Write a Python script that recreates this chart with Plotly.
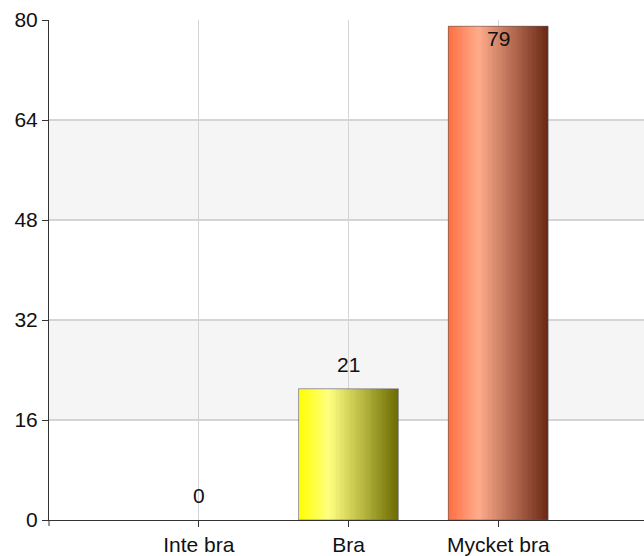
import plotly.graph_objects as go

categories = ["Inte bra", "Bra", "Mycket bra"]
values = [0, 21, 79]
y_ticks = [0, 16, 32, 48, 64, 80]

# gradient colour stops per category: (left, highlight, right)
base_colors = [(255, 255, 0), (255, 255, 0), (255, 110, 64)]
light_colors = [(255, 255, 128), (255, 255, 128), (255, 172, 140)]
dark_colors = [(107, 107, 0), (107, 107, 0), (105, 40, 20)]

xs = list(range(len(categories)))
BAR_W = 0.667
N = 40
HL = 0.3
FONT = "Liberation Sans, Arial"
FS = 21


def mix(a, b, t):
    return tuple(round(a[i] + (b[i] - a[i]) * t) for i in range(3))


def grad(i, t):
    if t <= HL:
        c = mix(base_colors[i], light_colors[i], t / HL)
    else:
        c = mix(light_colors[i], dark_colors[i], (t - HL) / (1 - HL))
    return "rgb(%d,%d,%d)" % c


fig = go.Figure()
w = BAR_W / N
for k in range(N):
    t = (k + 0.5) / N
    fig.add_trace(go.Bar(
        x=xs, y=values,
        width=w * 1.3 if k < N - 1 else w,
        offset=-BAR_W / 2 + k * w,
        marker=dict(color=[grad(i, t) for i in range(len(xs))], line=dict(width=0)),
        hoverinfo="skip", showlegend=False,
    ))
# thin outline (not on zero-height bars)
fig.add_trace(go.Bar(
    x=xs, y=values, width=BAR_W, offset=-BAR_W / 2,
    marker=dict(color="rgba(0,0,0,0)",
                line=dict(color=["rgba(90,90,90,0.6)" if v > 0 else "rgba(0,0,0,0)" for v in values],
                          width=1)),
    hoverinfo="skip", showlegend=False,
))

annotations = []
for x, v in zip(xs, values):
    inside = v > 70
    annotations.append(dict(
        x=x, y=v, xref="x", yref="y", text=str(v), showarrow=False,
        yanchor="top" if inside else "bottom",
        yshift=1 if inside else 11,
        font=dict(family=FONT, size=FS, color="#111"),
    ))

# alternating bands
shapes = []
for j in range(len(y_ticks) - 1):
    if j % 2 == 1:
        shapes.append(dict(type="rect", xref="paper", yref="y", x0=0, x1=1,
                           y0=y_ticks[j], y1=y_ticks[j + 1],
                           fillcolor="#f5f5f5", line=dict(width=0), layer="below"))
# left axis extension below x axis
shapes.append(dict(type="line", xref="paper", yref="paper", x0=0, x1=0, y0=0, y1=-0.012,
                   line=dict(color="#333", width=1)))

fig.update_layout(
    width=644, height=556,
    margin=dict(l=49, r=0, t=20, b=36, autoexpand=False),
    paper_bgcolor="white", plot_bgcolor="white",
    barmode="overlay", bargap=0,
    shapes=shapes, annotations=annotations,
    font=dict(family=FONT, size=FS, color="#111"),
    xaxis=dict(
        range=[-1, 2.973], tickvals=xs, ticktext=categories,
        showgrid=True, gridcolor="#d4d4d4", gridwidth=1,
        showline=True, linecolor="#333", linewidth=1,
        ticks="outside", ticklen=6, tickcolor="#333",
        zeroline=False, fixedrange=True, automargin=False,
    ),
    yaxis=dict(
        range=[0, 80], tickvals=y_ticks,
        showgrid=True, gridcolor="#d4d4d4", gridwidth=1.5,
        showline=True, linecolor="#333", linewidth=1,
        ticks="outside", ticklen=6, tickcolor="#333",
        zeroline=False, fixedrange=True, automargin=False,
    ),
)

fig.write_html(
    "out.html",
    config={"displayModeBar": False, "staticPlot": True},
    post_script="document.body.style.margin='0';document.body.style.overflow='hidden';",
)
